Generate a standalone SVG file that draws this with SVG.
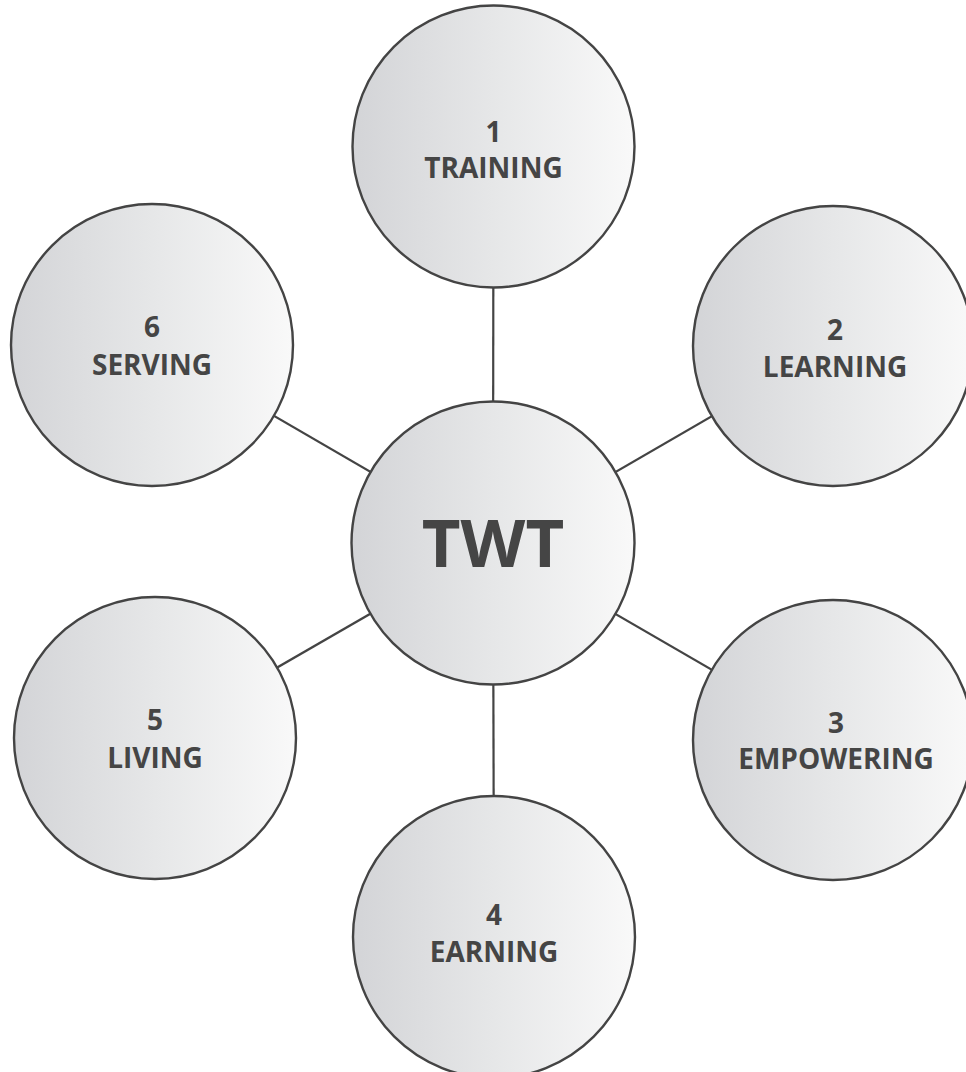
<svg xmlns="http://www.w3.org/2000/svg" width="966" height="1072" viewBox="0 0 966 1072">
  <defs>
    <linearGradient id="g" x1="0" y1="0" x2="1" y2="0">
      <stop offset="0" stop-color="#d3d4d7"/>
      <stop offset="0.5" stop-color="#e6e7e8"/>
      <stop offset="1" stop-color="#f9f9f9"/>
    </linearGradient>
  </defs>
  <style>
    .c { fill: url(#g); stroke: #444; stroke-width: 2.4; }
    .l { stroke: #444; stroke-width: 2.2; fill: none; }
    .t { font-family: "Open Sans", "DejaVu Sans", sans-serif; font-weight: 700; font-size: 28px; fill: #454545; text-anchor: middle; }
    .big { font-size: 67px; font-weight: 700; }
  </style>
  <rect width="966" height="1072" fill="#ffffff"/>
  <g id="connectors">
    <line class="l" x1="493" y1="543" x2="493.5" y2="146.5"/>
    <line class="l" x1="493" y1="543" x2="833" y2="346"/>
    <line class="l" x1="493" y1="543" x2="833" y2="740"/>
    <line class="l" x1="493" y1="543" x2="494" y2="937"/>
    <line class="l" x1="493" y1="543" x2="155" y2="738"/>
    <line class="l" x1="493" y1="543" x2="152" y2="345"/>
  </g>
  <g id="node-center">
    <circle class="c" cx="493" cy="543" r="141.5"/>
    <text class="t big" x="493" y="566.5">TWT</text>
  </g>
  <g id="node-1">
    <circle class="c" cx="493.5" cy="146.5" r="141"/>
    <text class="t" x="493.5" y="141.5">1</text>
    <text class="t" x="493.5" y="178">TRAINING</text>
  </g>
  <g id="node-2">
    <circle class="c" cx="833" cy="346" r="140"/>
    <text class="t" x="835" y="340">2</text>
    <text class="t" x="835" y="377">LEARNING</text>
  </g>
  <g id="node-3">
    <circle class="c" cx="833" cy="740" r="140"/>
    <text class="t" x="836" y="733">3</text>
    <text class="t" x="836" y="769">EMPOWERING</text>
  </g>
  <g id="node-4">
    <circle class="c" cx="494" cy="937" r="141"/>
    <text class="t" x="494" y="925">4</text>
    <text class="t" x="494" y="962">EARNING</text>
  </g>
  <g id="node-5">
    <circle class="c" cx="155" cy="738" r="141"/>
    <text class="t" x="155" y="730">5</text>
    <text class="t" x="155" y="768">LIVING</text>
  </g>
  <g id="node-6">
    <circle class="c" cx="152" cy="345" r="141"/>
    <text class="t" x="152" y="337">6</text>
    <text class="t" x="152" y="375">SERVING</text>
  </g>
</svg>
